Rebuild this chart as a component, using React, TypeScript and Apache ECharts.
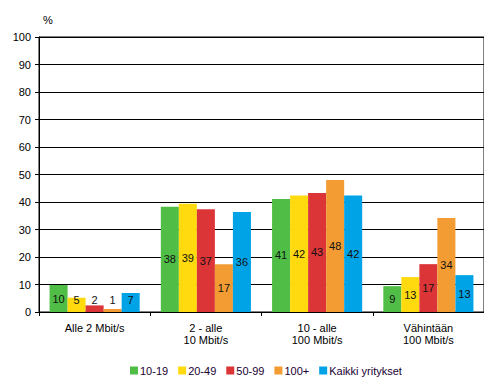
import React, { useEffect, useRef } from "react";
import * as echarts from "echarts";

const categories = ["Alle 2 Mbit/s", "2 - alle\n10 Mbit/s", "10 - alle\n100 Mbit/s", "Vähintään\n100 Mbit/s"];
const seriesNames = ["10-19", "20-49", "50-99", "100+", "Kaikki yritykset"];
const s1019 = [9.8, 38.3, 41.1, 9.4];
const s2049 = [5.2, 39.4, 42.4, 12.7];
const s5099 = [2.4, 37.4, 43.3, 17.4];
const s100 = [1.1, 17.4, 48.0, 34.2];
const sAll = [6.9, 36.4, 42.4, 13.4];
const colors = ["#50BE46", "#FFDA0F", "#DC3538", "#F39C33", "#00A3E6"];
const yTicks = [0, 10, 20, 30, 40, 50, 60, 70, 80, 90, 100];

const FONT = "'Liberation Sans', Arial, sans-serif";

export default function App() {
  const ref = useRef<HTMLDivElement>(null);
  useEffect(() => {
    if (!ref.current) return;
    const chart = echarts.init(ref.current, undefined, { renderer: "svg" });
    const all = [s1019, s2049, s5099, s100, sAll];
    const series = all.map((arr, i) => ({
      name: seriesNames[i],
      type: "bar",
      barGap: "0%",
      barCategoryGap: "19%",
      itemStyle: { color: colors[i] },
      data: arr.map((v) => ({
        value: v,
        label:
          v < 8
            ? { position: "insideBottom", distance: 7 }
            : { position: "inside" },
      })),
      label: {
        show: true,
        formatter: (p: any) => String(Math.round(p.value)),
        color: "#111",
        fontFamily: FONT,
        fontSize: 11,
      },
    }));
    chart.setOption({
      animation: false,
      textStyle: { fontFamily: FONT },
      grid: {
        left: 39,
        right: 8,
        top: 37,
        bottom: 73,
        show: true,
        borderColor: "#000",
        borderWidth: 1,
      },
      graphic: [
        {
          type: "text",
          left: 43,
          top: 14,
          style: { text: "%", font: `11px ${FONT}`, fill: "#000" },
        },
      ],
      legend: {
        bottom: 4,
        left: 125,
        itemWidth: 8,
        itemHeight: 8,
        itemGap: 10,
        icon: "rect",
        textStyle: { fontFamily: FONT, fontSize: 11, color: "#1a0033", padding: [0, 0, 0, -3] },
        data: seriesNames,
      },
      xAxis: {
        type: "category",
        data: categories,
        axisLine: { lineStyle: { color: "#000", width: 1 } },
        axisTick: { show: true, length: 4, lineStyle: { color: "#000" } },
        axisLabel: {
          color: "#000",
          fontFamily: FONT,
          fontSize: 11,
          lineHeight: 12,
          margin: 10,
          interval: 0,
        },
      },
      yAxis: {
        type: "value",
        min: yTicks[0],
        max: yTicks[yTicks.length - 1],
        interval: 10,
        axisLine: { show: true, lineStyle: { color: "#000", width: 1 } },
        axisTick: { show: true, length: 4, lineStyle: { color: "#000" } },
        splitLine: { show: true, lineStyle: { color: "#000", width: 1 } },
        axisLabel: { color: "#000", fontFamily: FONT, fontSize: 11, margin: 8 },
      },
      series,
    });
    return () => chart.dispose();
  }, []);
  return <div ref={ref} style={{ width: 492, height: 385, margin: -8 }} />;
}
